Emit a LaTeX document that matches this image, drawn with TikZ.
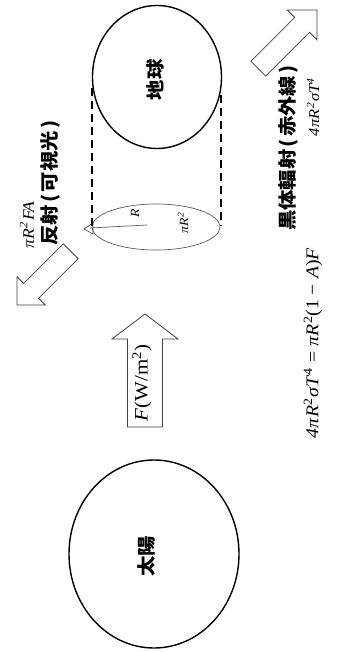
\documentclass[tikz,border=0pt]{standalone}
\usepackage{fontspec}
\usetikzlibrary{shapes.geometric}
\setmainfont{Liberation Serif}
\newfontfamily\jp{Noto Sans CJK JP}
\newcommand{\lp}{\kern2pt(\kern2pt}
\newcommand{\rp}{\kern2pt)\kern2pt}
\tikzset{
  body/.style={draw=black, line width=1.4pt},
  arrowline/.style={draw=black!75, line width=0.8pt, fill=white, line join=miter},
  thinline/.style={draw=black!65, line width=0.7pt},
  vtext/.style={rotate=90, xscale=1.1, inner sep=0pt},
  jlabel/.style={vtext, font=\jp\bfseries\fontsize{18.5}{18.5}\selectfont},
  mlabel/.style={vtext, font=\itshape\fontsize{15}{15}\selectfont},
  pics/harrow/.style n args={4}{code={
    \draw[arrowline] (0,0) -- (-#1,#2) -- (-#1,#3) -- (-#4,#3) -- (-#4,-#3) -- (-#1,-#3) -- (-#1,-#2) -- cycle;}}
}
\begin{document}
\begin{tikzpicture}[x=1pt,y=-1pt]
\useasboundingbox (0,0) rectangle (339,652);
% Earth
\node[body, ellipse, minimum width=129pt, minimum height=143pt, inner sep=0pt] (earth) at (157,77) {};
\node[jlabel] (earthlbl) at (155,80) {地球};
% Sun
\node[body, ellipse, minimum width=170pt, minimum height=188pt, inner sep=0pt] (sun) at (154,554) {};
\node[jlabel] (sunlbl) at (146,556) {太陽};
% cross-section disk
\node[thinline, ellipse, minimum width=128pt, minimum height=46pt, inner sep=0pt] (disk) at (156,227) {};
\coordinate (dc) at (147,225);
\coordinate (dl) at (90,228);
\draw[thinline] (dc) -- (dl);
\draw[thinline] (84,229) -- (93,223) -- (93,234) -- cycle;
\node[mlabel, font=\itshape\fontsize{12.5}{12.5}\selectfont] (rlbl) at (135,213) {R};
\node[mlabel, font=\itshape\fontsize{12.5}{12.5}\selectfont] (arealbl) at (183,223) {π\kern0.5pt R\textsuperscript{2}};
% dashed cylinder lines
\coordinate (e1) at (92,88); \coordinate (d1) at (92,226);
\coordinate (e2) at (221,95); \coordinate (d2) at (221,226);
\draw[black, line width=1.4pt, dash pattern=on 8pt off 5pt] (e1) -- (d1);
\draw[black, line width=1.4pt, dash pattern=on 8pt off 5pt] (e2) -- (d2);
% incoming flux arrow
\pic[rotate=90] at (145,314) {harrow={25}{33}{17.5}{113}};
\node[vtext, font=\fontsize{19}{19}\selectfont] (flux) at (142,383) {\textit{F}(W/m\textsuperscript{2})};
% reflection arrow
\pic[rotate=225] at (17,305) {harrow={20}{20}{10.5}{76}};
\node[mlabel, font=\itshape\fontsize{16}{16}\selectfont] (refl) at (27,225) {π\kern0.5pt R\textsuperscript{2}\kern1pt FA};
\node[jlabel] (refllbl) at (50,182) {反射\lp 可視光\rp};
% blackbody arrow
\pic[rotate=45] at (317,10) {harrow={21}{21}{10.5}{83}};
\node[jlabel] (bblbl) at (288,147) {黒体輻射\lp 赤外線\rp};
\node[mlabel] (bb) at (313,107) {4π\kern0.5pt R\textsuperscript{2}\kern1pt σT\textsuperscript{4}};
% balance equation
\node[vtext, font=\fontsize{18}{18}\selectfont] (eq) at (313,343)
  {\textit{4π\kern0.5pt R}\textsuperscript{2}\kern1pt\textit{σT}\textsuperscript{4} = \textit{π\kern0.5pt R}\textsuperscript{2}(1 − \textit{A})\textit{F}};
\end{tikzpicture}
\end{document}
